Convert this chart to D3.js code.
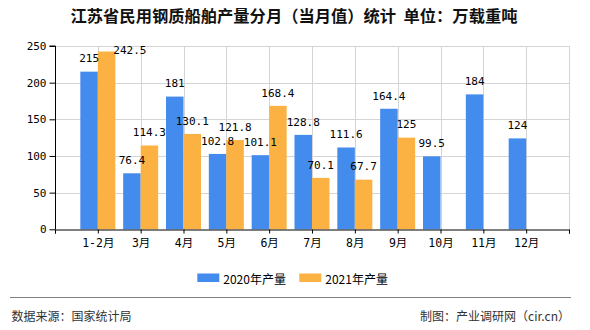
<!DOCTYPE html>
<html>
<head>
<meta charset="utf-8">
<script src="https://cdn.jsdelivr.net/npm/d3@7"></script>
<style>
  html, body { margin: 0; padding: 0; background: #fff; }
  svg { display: block; }
</style>
</head>
<body>
<svg id="chart" width="590" height="330"></svg>
<script>
const categories = ["1-2月","3月","4月","5月","6月","7月","8月","9月","10月","11月","12月"];
const series2020 = [215, 76.4, 181, 102.8, 101.1, 128.8, 111.6, 164.4, 99.5, 184, 124];
const series2021 = [242.5, 114.3, 130.1, 121.8, 168.4, 70.1, 67.7, 125, null, null, null];
const seriesNames = ["2020年产量", "2021年产量"];
const seriesColors = ["#448bee", "#fbb242"];
const yTicks = [0, 50, 100, 150, 200, 250];
const titleText = "江苏省民用钢质船舶产量分月（当月值）统计  单位：万载重吨";
const sourceText = "数据来源：国家统计局";
const makerText = "制图：产业调研网（cir.cn）";

const svg = d3.select("#chart");
const numFont = "'DejaVu Sans Mono', 'Noto Sans CJK SC', monospace";
const cjkFont = "'Noto Sans CJK SC', 'Noto Sans', sans-serif";

const pL = 55, pR = 569, pT = 46, pB = 229.3;
const x = d3.scaleLinear().domain([0, categories.length + 1]).range([pL, pR]);
const y = d3.scaleLinear().domain([0, 250]).range([pB, pT]);
const barW = 17.5;

// title
svg.append("text")
  .attr("x", 294).attr("y", 15)
  .attr("text-anchor", "middle").attr("dominant-baseline", "central")
  .style("white-space", "pre")
  .style("font-family", cjkFont).style("font-size", "16.3px").style("font-weight", "bold")
  .style("fill", "#111")
  .text(titleText);

// grid
const grid = svg.append("g");
grid.selectAll("line.h").data(yTicks.filter(d => d > 0)).enter().append("line")
  .attr("x1", pL).attr("x2", pR)
  .attr("y1", d => Math.round(y(d)) + 0.5).attr("y2", d => Math.round(y(d)) + 0.5)
  .attr("stroke", "#d4d4d4").attr("stroke-width", 1);
grid.selectAll("line.v").data(d3.range(1, categories.length + 2)).enter().append("line")
  .attr("x1", d => Math.round(x(d)) + 0.5).attr("x2", d => Math.round(x(d)) + 0.5)
  .attr("y1", pT).attr("y2", pB)
  .attr("stroke", "#d4d4d4").attr("stroke-width", 1);

// bars
const bars = svg.append("g");
[series2020, series2021].forEach((s, si) => {
  bars.selectAll(null).data(s.map((v, i) => ({ v, i })).filter(d => d.v != null)).enter().append("rect")
    .attr("x", d => x(d.i + 1) + (si === 0 ? -barW : 0))
    .attr("width", barW)
    .attr("y", d => y(d.v))
    .attr("height", d => y(0) - y(d.v))
    .attr("fill", seriesColors[si]);
});

// y axis
const yAxis = svg.append("g").attr("transform", `translate(${pL + 0.5},0)`)
  .call(d3.axisLeft(y).tickValues(yTicks).tickSize(6).tickPadding(3).tickFormat(d3.format("d")));
yAxis.select(".domain").attr("stroke", "#000").attr("d", `M-6,${pT}H0V${pB}`);
yAxis.selectAll(".tick line").attr("stroke", "#000");
yAxis.selectAll(".tick text").style("font-family", numFont).style("font-size", "11px").style("fill", "#000");

// x axis
const xAxis = svg.append("g").attr("transform", `translate(0,${Math.round(pB) + 0.5})`)
  .call(d3.axisBottom(x).tickValues(d3.range(0, categories.length + 2)).tickSize(4).tickPadding(5)
    .tickFormat(d => categories[d - 1] || ""));
xAxis.select(".domain").attr("stroke", "#000");
xAxis.selectAll(".tick line").attr("stroke", "#000");
xAxis.selectAll(".tick text").style("font-family", numFont).style("font-size", "11.5px").style("fill", "#000");

// value labels
const labels = svg.append("g");
[series2020, series2021].forEach((s, si) => {
  s.forEach((v, i) => {
    if (v == null) return;
    const cx = x(i + 1) + (si === 0 ? -barW / 2 : barW / 2);
    let ly = y(v) - 12.7, lx = cx, anchor = "middle";
    if (ly < pT + 4) { // no room above: place beside the bar
      ly = y(v) - 1;
      lx = x(i + 1) + (si === 0 ? 0 : barW - 2);
      anchor = "start";
    }
    labels.append("text")
      .attr("x", lx).attr("y", ly)
      .attr("text-anchor", anchor).attr("dominant-baseline", "central")
      .style("font-family", numFont).style("font-size", "11px").style("fill", "#000")
      .text(String(v));
  });
});

// legend
const legend = svg.append("g");
const legX = [197.3, 299.3];
seriesNames.forEach((n, i) => {
  legend.append("rect").attr("x", legX[i]).attr("y", 273.5).attr("width", 22).attr("height", 8.5)
    .attr("fill", seriesColors[i]);
  legend.append("text").attr("x", legX[i] + 26).attr("y", 278.3)
    .attr("dominant-baseline", "central")
    .style("font-family", cjkFont).style("font-size", "12px").style("fill", "#000")
    .text(n);
});

// footer
svg.append("line").attr("x1", 10).attr("x2", 571).attr("y1", 297.5).attr("y2", 297.5)
  .attr("stroke", "#808080").attr("stroke-width", 1.2);
svg.append("text").attr("x", 11.5).attr("y", 315).attr("dominant-baseline", "central")
  .style("font-family", cjkFont).style("font-size", "12px").style("fill", "#333")
  .text(sourceText);
svg.append("text").attr("x", 570).attr("y", 315).attr("dominant-baseline", "central")
  .attr("text-anchor", "end")
  .style("font-family", cjkFont).style("font-size", "12px").style("fill", "#333")
  .text(makerText);
</script>
</body>
</html>
